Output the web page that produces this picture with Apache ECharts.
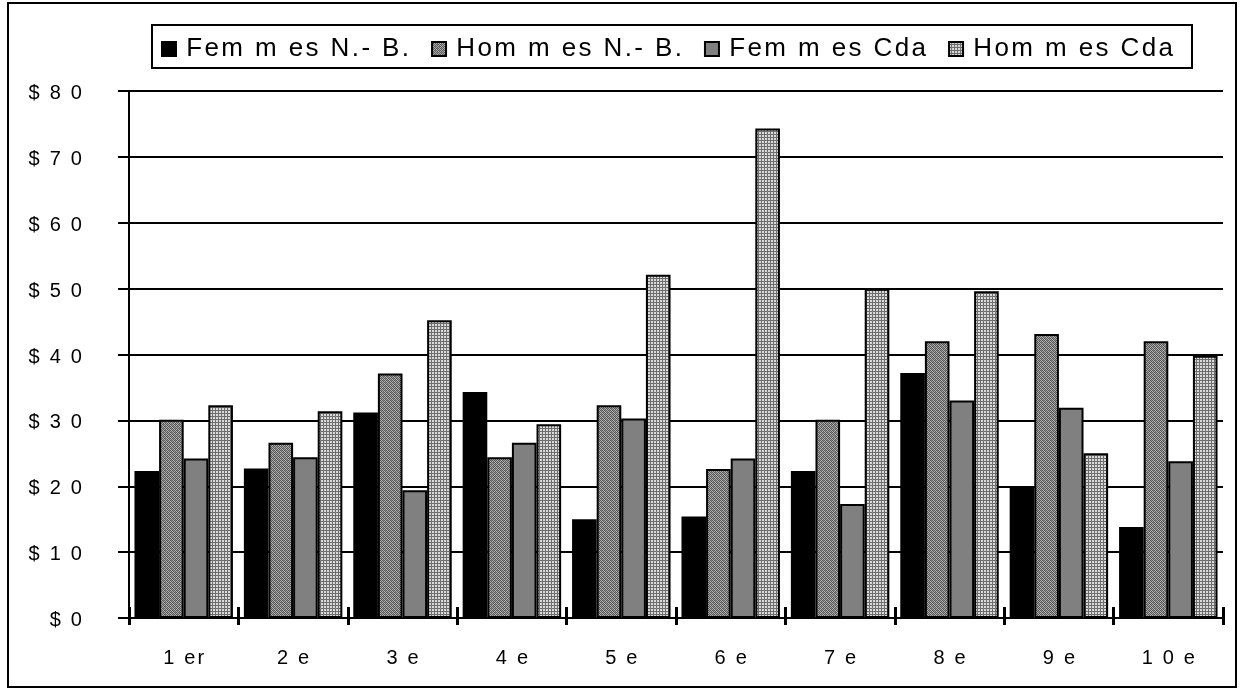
<!DOCTYPE html>
<html>
<head>
<meta charset="utf-8">
<script src="https://cdn.jsdelivr.net/npm/echarts@6/dist/echarts.min.js"></script>
<style>
html,body{margin:0;padding:0;background:#fff;}
#c{width:1241px;height:691px;}
</style>
</head>
<body>
<div id="c"></div>
<script>
const categories = ['1 er','2 e','3 e','4 e','5 e','6 e','7 e','8 e','9 e','1 0 e'];
const seriesNames = ['Fem m es N.- B.','Hom m es N.- B.','Fem m es Cda','Hom m es Cda'];
const femmesNB  = [22.3, 22.7, 31.2, 34.3, 15.0, 15.4, 22.3, 37.2, 20.0, 13.8];
const hommesNB  = [30.1, 26.6, 37.1, 24.4, 32.3, 22.6, 30.1, 42.0, 43.1, 42.0];
const femmesCda = [24.2, 24.4, 19.4, 26.6, 30.3, 24.2, 17.3, 33.0, 31.9, 23.8];
const hommesCda = [32.3, 31.4, 45.2, 29.4, 52.1, 74.3, 50.0, 49.6, 25.0, 39.8];
const yTickLabels = ['$ 0','$ 1 0','$ 2 0','$ 3 0','$ 4 0','$ 5 0','$ 6 0','$ 7 0','$ 8 0'];

function makePattern(size, draw){
  const cv = document.createElement('canvas');
  cv.width = size; cv.height = size;
  const ctx = cv.getContext('2d');
  draw(ctx);
  return {image: cv, repeat: 'repeat'};
}
const patHNB = makePattern(4, ctx => {
  ctx.fillStyle = '#b0b0b0'; ctx.fillRect(0,0,4,4);
  ctx.fillStyle = '#585858';
  [[0,0],[2,0],[1,1],[3,1],[0,2],[2,2],[1,3],[3,3]].forEach(p=>ctx.fillRect(p[0],p[1],1,1));
  ctx.fillStyle = '#8c8c8c';
  ctx.fillRect(3,0,1,1); ctx.fillRect(1,2,1,1);
});
const patHCda = makePattern(3, ctx => {
  ctx.fillStyle = '#dadada'; ctx.fillRect(0,0,3,3);
  ctx.fillStyle = '#6e6e6e'; ctx.fillRect(0,2,3,1); ctx.fillRect(2,0,1,3);
});

const fills = ['#000000', patHNB, '#808080', patHCda];
const dataSets = [femmesNB, hommesNB, femmesCda, hommesCda];
const FONT = '"Liberation Sans", Arial, sans-serif';

// letter-spaced text via rich fragments
function spaced(str, cls){
  return str.split('').map(ch => '{' + cls + '|' + ch + '}').join('');
}
const richAxis = {a: {fontFamily: FONT, fontSize: 20, color:'#000', padding:[0,1.1,0,1.1]}};
const richLeg  = {
  l: {fontFamily: FONT, fontSize: 26, color:'#000', padding:[0,1.2,0,1.2]},
  g: {fontFamily: FONT, fontSize: 26, color:'#000', width: 4}
};

const chart = echarts.init(document.getElementById('c'), null, {renderer:'canvas'});
chart.setOption({
  animation: false,
  backgroundColor: '#ffffff',
  graphic: [
    {type:'rect', shape:{x:8,y:3,width:1228,height:684}, style:{fill:'none', stroke:'#000', lineWidth:2}, z:-10},
    {type:'rect', shape:{x:152,y:25,width:1040,height:43}, style:{fill:'#fff', stroke:'#000', lineWidth:2}, z:-5}
  ],
  legend: {
    left: 156, top: 31,
    itemWidth: 14, itemHeight: 14, itemGap: 22,
    icon: 'rect',
    formatter: name => '{g|}' + spaced(name, 'l'),
    textStyle: {fontFamily: FONT, fontSize: 26, color: '#000', rich: richLeg},
    data: seriesNames
  },
  grid: {left: 129, right: 18, top: 91, bottom: 73, containLabel: false},
  xAxis: [{
    type: 'category', data: categories,
    axisLine: {lineStyle: {color:'#000', width:2}},
    axisTick: {show:true, interval:0, length:7, lineStyle:{color:'#000', width:3}},
    axisLabel: {interval:0, fontFamily: FONT, fontSize: 20, color:'#000', margin: 30,
      formatter: v => spaced(v, 'a'), rich: richAxis}
  },{
    type: 'category', data: categories, position:'bottom',
    axisLine: {show:false},
    axisTick: {show:true, interval:0, inside:true, length:11, lineStyle:{color:'#000', width:3}},
    axisLabel: {show:false}
  }],
  yAxis: {
    type: 'value', min: 0, max: 80, interval: 10,
    axisLine: {show:true, lineStyle:{color:'#000', width:2}},
    axisTick: {show:true, length:11, lineStyle:{color:'#000', width:2}},
    splitLine: {show:true, lineStyle:{color:'#000', width:2}},
    axisLabel: {fontFamily: FONT, fontSize: 20, color:'#000', margin: 46,
      padding: [5,0,0,0],
      formatter: v => spaced(yTickLabels[Math.round(v/10)], 'a'), rich: richAxis}
  },
  series: dataSets.map((d,i)=>({
    name: seriesNames[i], type:'bar', data: d,
    xAxisIndex: 0,
    barGap: '0%', barCategoryGap: '10%',
    itemStyle: {color: fills[i], borderColor:'#000', borderWidth: 2}
  }))
});
</script>
</body>
</html>
